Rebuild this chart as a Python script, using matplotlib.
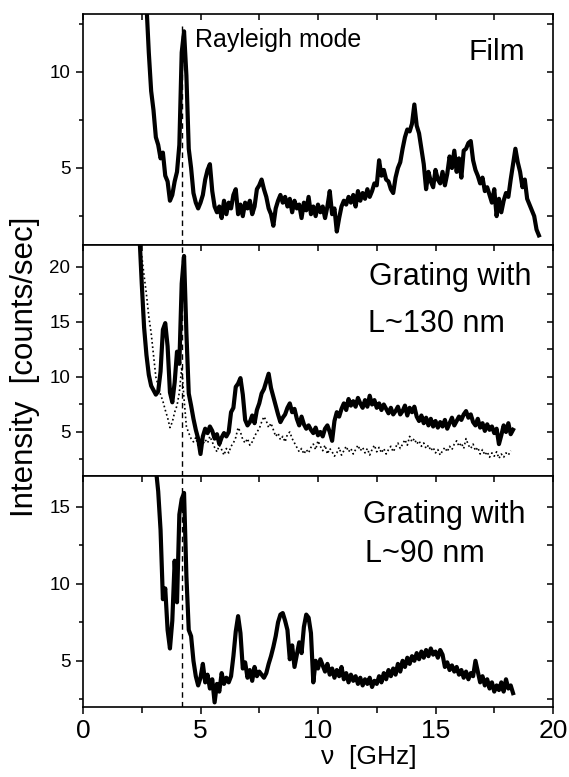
'''
Brillouin spectra of a film and two gratings, stacked panels
'''
import numpy as np
import matplotlib
matplotlib.use('Agg')
import matplotlib.pyplot as plt
from matplotlib.ticker import MultipleLocator

plt.rcParams['font.family'] = ['Liberation Sans', 'DejaVu Sans']

#Spectra, sampled every 0.1 GHz from the start frequency
step = 0.1

film_start = 2.7
film_counts = [
    13.5, 11.0, 9.0, 8.0, 6.6, 6.2, 5.5, 5.8, 4.6, 4.3,
    3.3, 3.6, 4.3, 4.8, 6.2, 11.0, 12.1, 9.8, 6.0, 5.0,
    3.7, 3.2, 2.9, 3.2, 3.6, 4.4, 4.9, 5.2, 3.8, 3.0,
    2.7, 3.0, 2.4, 3.3, 2.6, 3.2, 2.9, 3.6, 3.9, 2.6,
    3.1, 2.5, 3.2, 2.9, 3.3, 2.6, 3.0, 3.9, 4.1, 4.4,
    3.9, 3.5, 2.9, 2.6, 2.0, 2.9, 3.3, 3.6, 3.2, 3.5,
    3.0, 3.4, 2.7, 3.3, 2.9, 3.1, 2.4, 3.2, 2.8, 3.5,
    2.6, 3.0, 2.5, 3.1, 2.7, 3.0, 2.4, 3.0, 3.8, 2.6,
    2.9, 1.7, 2.4, 3.0, 3.3, 3.1, 3.5, 3.2, 3.6, 3.0,
    3.8, 3.3, 3.7, 3.4, 3.9, 3.5, 3.8, 4.2, 4.1, 5.4,
    4.6, 4.9, 4.4, 4.3, 3.9, 3.7, 4.5, 5.0, 5.3, 6.0,
    6.6, 7.0, 6.9, 7.3, 8.3, 7.2, 6.8, 6.0, 5.2, 3.9,
    4.8, 4.3, 4.0, 4.9, 4.4, 4.2, 4.8, 4.1, 4.7, 5.6,
    5.0, 5.9, 4.8, 5.5, 4.5, 5.9, 6.0, 6.3, 6.4, 5.4,
    4.9, 4.6, 4.2, 4.5, 3.8, 4.0, 3.6, 3.2, 3.9, 2.5,
    3.4, 2.7, 3.3, 3.7, 3.5, 4.4, 5.2, 6.0, 5.3, 4.8,
    4.0, 4.4, 3.4, 3.1, 2.8, 2.5, 1.8, 1.5]

g130_start = 2.4
g130_counts = [
    23.0, 18.5, 14.5, 12.0, 10.2, 9.2, 8.8, 8.4, 8.7, 10.5,
    14.3, 14.9, 12.8, 8.6, 7.7, 9.5, 12.3, 11.2, 18.5, 21.0,
    14.0, 8.5, 7.4, 6.2, 5.2, 4.4, 3.0, 4.6, 5.3, 4.9,
    5.5, 5.1, 4.4, 4.8, 3.9, 4.5, 4.9, 4.6, 5.0, 6.8,
    7.2, 9.1, 9.4, 9.9, 8.4, 6.1, 5.6, 5.9, 6.5, 5.8,
    7.0, 7.6, 8.5, 8.9, 9.6, 10.3, 9.0, 8.2, 7.4, 6.6,
    5.9, 6.3, 6.6, 7.2, 7.6, 6.8, 7.1, 6.2, 5.6, 6.4,
    5.7, 5.3, 5.6, 5.2, 4.9, 5.4, 4.7, 5.0, 4.6, 5.3,
    5.6, 5.0, 4.2, 6.0, 6.8, 6.4, 7.1, 7.6, 7.0, 8.0,
    7.4, 7.8, 7.3, 8.1, 7.6, 7.2, 7.9, 7.3, 8.3, 7.5,
    7.9, 7.2, 7.6, 7.0, 7.5, 7.1, 6.7, 7.2, 6.6, 6.9,
    7.3, 6.6, 6.9, 7.4, 6.5, 7.2, 6.8, 7.3, 6.4, 6.0,
    6.5, 5.8, 6.3, 5.6, 6.2, 5.5, 6.0, 5.4, 5.9, 5.5,
    6.1, 5.3, 5.8, 6.3, 5.6, 6.0, 6.4, 6.1, 6.6, 6.9,
    6.3, 6.6, 5.9, 5.6, 6.2, 5.4, 5.8, 5.1, 5.7, 5.2,
    5.5, 4.9, 5.3, 3.9, 4.7, 5.6, 5.0, 5.8, 4.8, 5.2]

#Dotted reference spectrum in the middle panel
g130_ref_start = 2.5
g130_ref_counts = [
    21.0, 19.2, 17.5, 15.5, 14.0, 12.0, 10.0, 9.2, 8.4, 7.8,
    7.0, 6.3, 5.4, 5.9, 6.8, 7.4, 8.6, 10.9, 8.0, 5.5,
    4.9, 4.4, 4.1, 4.5, 3.7, 4.2, 3.9, 4.3, 4.0, 4.6,
    4.1, 3.6, 3.2, 3.8, 3.4, 2.9, 3.5, 3.1, 3.7, 4.0,
    4.5, 5.4, 5.0, 4.3, 4.0, 4.4, 3.8, 4.1, 4.6, 5.0,
    5.3, 5.9, 6.4, 6.0, 5.4, 5.8, 5.2, 4.6, 4.9, 4.3,
    4.6, 4.1, 4.8, 5.0, 4.4, 4.0, 3.6, 3.2, 3.5, 3.0,
    3.4, 3.1, 3.6, 3.9, 3.4, 4.2, 3.7, 3.3, 3.8, 3.0,
    3.5, 3.2, 2.8, 3.1, 3.6, 2.9, 3.3, 3.7, 3.2, 3.5,
    3.0, 3.4, 3.8, 3.3, 3.6, 3.1, 3.5, 2.9, 3.4, 3.8,
    3.2, 3.6, 3.1, 3.5, 3.0, 3.4, 3.7, 3.2, 3.6, 4.0,
    3.5, 3.9, 4.3, 3.8, 4.6, 4.1, 4.4, 3.9, 4.2, 3.7,
    4.0, 3.5, 3.8, 3.3, 3.6, 3.1, 3.4, 2.9, 3.3, 3.6,
    3.2, 3.7, 3.4, 3.9, 4.2, 3.7, 4.0, 3.5, 4.4, 3.8,
    3.5, 3.9, 3.3, 3.6, 3.0, 3.4, 2.9, 3.2, 2.7, 3.1,
    2.8, 3.2, 2.6, 3.0, 2.7, 3.1, 2.9, 3.3]

g90_start = 3.1
g90_counts = [
    17.5, 16.0, 13.5, 9.0, 9.7, 7.0, 5.8, 7.6, 11.5, 8.8,
    14.5, 15.5, 15.9, 10.5, 7.0, 6.6, 5.0, 4.0, 3.4, 3.9,
    4.8, 3.6, 4.1, 3.2, 3.8, 2.3, 3.5, 3.0, 4.2, 3.5,
    3.9, 3.6, 4.0, 5.3, 6.9, 7.9, 6.8, 4.5, 4.9, 3.9,
    4.4, 3.7, 4.6, 4.0, 4.3, 4.1, 3.9, 4.2, 4.8, 5.3,
    5.9, 6.6, 7.5, 8.0, 8.1, 7.6, 7.0, 5.1, 6.0, 4.6,
    5.4, 6.2, 5.5, 7.2, 8.0, 7.8, 6.8, 3.6, 5.0, 4.5,
    5.1, 4.7, 4.3, 4.8, 4.1, 4.5, 3.9, 4.4, 4.0, 4.6,
    3.8, 4.2, 3.6, 4.1, 3.7, 4.0, 3.5, 3.9, 3.4, 3.8,
    3.5, 3.9, 3.3, 3.7, 3.5, 4.0, 3.6, 4.2, 3.8, 4.4,
    4.0, 4.5, 4.1, 4.8, 4.3, 5.0, 4.6, 5.2, 4.8, 5.3,
    5.0, 5.5, 5.1, 5.6, 5.2, 5.7, 5.3, 5.8, 5.4, 5.6,
    5.2, 5.7, 5.4, 4.6, 4.9, 4.4, 4.7, 4.3, 4.6, 4.1,
    4.4, 3.9, 4.3, 3.8, 4.2, 4.0, 5.0, 4.3, 3.6, 4.0,
    3.4, 3.8, 3.2, 3.6, 3.0, 3.4, 3.1, 3.6, 3.0, 3.8,
    3.2, 3.4, 2.9]

rayleigh_freq = 4.22

x_ticks = [0, 5, 10, 15, 20]
panel_ylims = [(1, 13), (1, 22), (2, 17)]
panel_yticks = [[5, 10], [5, 10, 15, 20], [5, 10, 15]]


def freq_axis(start, counts):

    return start + step * np.arange(len(counts))


def style_panel(axis, ylim, yticks, bottom_panel):

    axis.set_xlim(0, 20)

    axis.set_ylim(*ylim)

    axis.set_xticks(x_ticks)

    axis.xaxis.set_minor_locator(MultipleLocator(2.5))

    axis.set_yticks(yticks)

    axis.yaxis.set_minor_locator(MultipleLocator(2.5))

    for spine in axis.spines.values():

        spine.set_linewidth(1.2)

    axis.tick_params(axis='y', which='both', direction='out', left=True,
                     right=False, labelsize=13.5, pad=4, width=1.1)

    axis.tick_params(axis='y', which='major', length=5)

    axis.tick_params(axis='y', which='minor', length=3)

    #Right side gets inward ticks, no labels
    right = axis.secondary_yaxis('right')

    right.set_yticks(yticks)

    right.yaxis.set_minor_locator(MultipleLocator(2.5))

    right.tick_params(which='both', direction='in', length=4, width=1.1,
                      labelright=False)

    right.spines['right'].set_visible(False)

    #Top gets inward ticks
    top = axis.secondary_xaxis('top')

    top.set_xticks(x_ticks)

    top.xaxis.set_minor_locator(MultipleLocator(2.5))

    top.tick_params(which='both', direction='in', length=4, width=1.1,
                    labeltop=False)

    top.spines['top'].set_visible(False)

    if bottom_panel:

        axis.tick_params(axis='x', which='both', direction='out', width=1.1,
                         labelsize=19, pad=4)

        axis.tick_params(axis='x', which='major', length=5)

        axis.tick_params(axis='x', which='minor', length=4)

    else:

        axis.tick_params(axis='x', which='both', bottom=False,
                         labelbottom=False)


fig = plt.figure(figsize=(5.69, 7.77), dpi=100)

W, H = 569.0, 777.0

left = 83 / W

width = 470 / W

height = 231 / H

ax_film = fig.add_axes([left, 1 - 245 / H, width, height])

ax_130 = fig.add_axes([left, 1 - 476 / H, width, height])

ax_90 = fig.add_axes([left, 1 - 707 / H, width, height])

axes = [ax_film, ax_130, ax_90]

line_kw = dict(color='black', linewidth=3.0, solid_joinstyle='round')

ax_film.plot(freq_axis(film_start, film_counts), film_counts, **line_kw)

ax_130.plot(freq_axis(g130_ref_start, g130_ref_counts), g130_ref_counts,
            color='black', linewidth=1.2, linestyle=(0, (1, 1.6)))

ax_130.plot(freq_axis(g130_start, g130_counts), g130_counts, **line_kw)

ax_90.plot(freq_axis(g90_start, g90_counts), g90_counts, **line_kw)

#Dashed marker of the Rayleigh mode through all panels
dash_kw = dict(color='black', linewidth=1.0, linestyle=(0, (4, 3)))

ax_film.axvline(rayleigh_freq, ymin=0, ymax=(12.4 - 1) / 12, **dash_kw)

ax_130.axvline(rayleigh_freq, **dash_kw)

ax_90.axvline(rayleigh_freq, **dash_kw)

for i in range(3):

    style_panel(axes[i], panel_ylims[i], panel_yticks[i], i == 2)

#Panel annotations
fig.text(195 / W, 1 - 47 / H, 'Rayleigh mode', fontsize=18,
         ha='left', va='baseline')

fig.text(525 / W, 1 - 60 / H, 'Film', fontsize=21.5, ha='right',
         va='baseline')

fig.text(369 / W, 1 - 285 / H, 'Grating with', fontsize=22,
         ha='left', va='baseline')

fig.text(368 / W, 1 - 332 / H, 'L~130 nm', fontsize=22,
         ha='left', va='baseline')

fig.text(363 / W, 1 - 523 / H, 'Grating with', fontsize=22,
         ha='left', va='baseline')

fig.text(365 / W, 1 - 562 / H, 'L~90 nm', fontsize=22,
         ha='left', va='baseline')

fig.text(25 / W, 1 - 367 / H, 'Intensity  [counts/sec]', fontsize=22.5,
         rotation=90, ha='center', va='center')

fig.text(369 / W, 1 - 757 / H, 'ν  [GHz]', fontsize=19,
         ha='center', va='center')

fig.savefig('out.png', dpi=100)
